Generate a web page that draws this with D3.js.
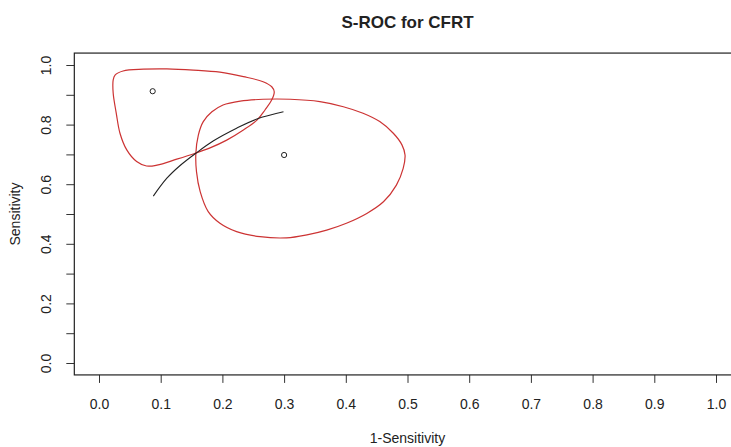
<!DOCTYPE html>
<html>
<head>
<meta charset="utf-8">
<script src="https://cdn.jsdelivr.net/npm/d3@7"></script>
<style>
  body { margin: 0; background: #fff; }
  text { font-family: "Liberation Sans", Arial, sans-serif; fill: #222; }
</style>
</head>
<body>
<div id="chart"></div>
<script>
// summary points (1-specificity, sensitivity)
const points = [[0.087, 0.912], [0.300, 0.698]];

// SROC curve
const sroc = [[0.088, 0.560], [0.110, 0.620], [0.131, 0.662], [0.157, 0.704],
  [0.185, 0.745], [0.223, 0.788], [0.256, 0.819], [0.299, 0.843]];

// confidence region around the first point
const region1 = [[0.026, 0.966], [0.039, 0.980], [0.072, 0.986], [0.110, 0.987],
  [0.153, 0.983], [0.196, 0.976], [0.234, 0.961], [0.266, 0.944], [0.280, 0.927],
  [0.284, 0.910], [0.280, 0.883], [0.269, 0.849], [0.256, 0.815], [0.234, 0.782],
  [0.207, 0.748], [0.180, 0.722], [0.156, 0.704], [0.126, 0.684], [0.094, 0.664],
  [0.077, 0.661], [0.061, 0.676], [0.045, 0.715], [0.034, 0.771], [0.028, 0.838],
  [0.023, 0.905], [0.023, 0.950]];

// confidence region around the second point
const region2 = [[0.157, 0.704], [0.161, 0.765], [0.169, 0.810], [0.183, 0.843],
  [0.201, 0.866], [0.229, 0.879], [0.266, 0.885], [0.310, 0.885], [0.358, 0.877],
  [0.396, 0.860], [0.428, 0.838], [0.455, 0.810], [0.477, 0.771], [0.491, 0.732],
  [0.496, 0.698], [0.493, 0.653], [0.482, 0.597], [0.461, 0.541], [0.434, 0.502],
  [0.401, 0.469], [0.369, 0.446], [0.337, 0.430], [0.304, 0.420], [0.261, 0.424],
  [0.223, 0.441], [0.196, 0.469], [0.177, 0.508], [0.164, 0.575], [0.158, 0.642]];

const xTicks = [0, 0.1, 0.2, 0.3, 0.4, 0.5, 0.6, 0.7, 0.8, 0.9, 1.0];
const yTicks = [0, 0.1, 0.2, 0.3, 0.4, 0.5, 0.6, 0.7, 0.8, 0.9, 1.0];

const width = 731, height = 447;

const x = d3.scaleLinear().domain([0, 1]).range([99, 716]);
const y = d3.scaleLinear().domain([0, 1]).range([363, 65]);

const svg = d3.select("#chart")
  .append("svg")
  .attr("width", width)
  .attr("height", height);

const boxL = x(-0.04), boxR = x(1.04), boxT = y(1.04), boxB = y(-0.04);

// x axis
const xAxis = svg.append("g")
  .attr("transform", `translate(0,${boxB})`)
  .call(d3.axisBottom(x).tickValues(xTicks).tickSize(8).tickPadding(16)
    .tickFormat(d3.format(".1f")));
xAxis.select(".domain").remove();
xAxis.selectAll("line").attr("stroke", "#333");
xAxis.selectAll("text").style("font-size", "14px").attr("fill", "#222");

// y axis, labels only every 0.2 like R drops them
const yAxis = svg.append("g")
  .attr("transform", `translate(${boxL},0)`)
  .call(d3.axisLeft(y).tickValues(yTicks).tickSize(8)
    .tickFormat(d => (Math.round(d * 10) % 2 === 0 ? d3.format(".1f")(d) : "")));
yAxis.select(".domain").remove();
yAxis.selectAll("line").attr("stroke", "#333");
yAxis.selectAll("text")
  .style("font-size", "14px")
  .attr("fill", "#222")
  .attr("text-anchor", "middle")
  .attr("x", 0)
  .attr("dy", 0)
  .attr("transform", "translate(-23,0) rotate(-90)");

// plot box
svg.append("rect")
  .attr("x", boxL)
  .attr("y", boxT)
  .attr("width", boxR - boxL)
  .attr("height", boxB - boxT)
  .attr("fill", "none")
  .attr("stroke", "#222")
  .attr("stroke-width", 1.2);

const g = svg.append("g");

const closed = d3.line()
  .x(d => x(d[0]))
  .y(d => y(d[1]))
  .curve(d3.curveCatmullRomClosed);

g.selectAll("path.region")
  .data([region1, region2])
  .join("path")
  .attr("class", "region")
  .attr("d", closed)
  .attr("fill", "none")
  .attr("stroke", "#cc3333")
  .attr("stroke-width", 1.2);

g.append("path")
  .datum(sroc)
  .attr("d", d3.line().x(d => x(d[0])).y(d => y(d[1])).curve(d3.curveCatmullRom))
  .attr("fill", "none")
  .attr("stroke", "#222")
  .attr("stroke-width", 1.1);

g.selectAll("circle")
  .data(points)
  .join("circle")
  .attr("cx", d => x(d[0]))
  .attr("cy", d => y(d[1]))
  .attr("r", 2.6)
  .attr("fill", "none")
  .attr("stroke", "#222")
  .attr("stroke-width", 1);

// titles
svg.append("text")
  .attr("x", (boxL + boxR) / 2)
  .attr("y", 28)
  .attr("text-anchor", "middle")
  .style("font-size", "17px")
  .style("font-weight", "bold")
  .text("S-ROC for CFRT");

svg.append("text")
  .attr("x", (boxL + boxR) / 2)
  .attr("y", 443)
  .attr("text-anchor", "middle")
  .style("font-size", "14px")
  .text("1-Sensitivity");

svg.append("text")
  .attr("transform", `translate(20,${(boxT + boxB) / 2}) rotate(-90)`)
  .attr("text-anchor", "middle")
  .style("font-size", "14px")
  .text("Sensitivity");
</script>
</body>
</html>
